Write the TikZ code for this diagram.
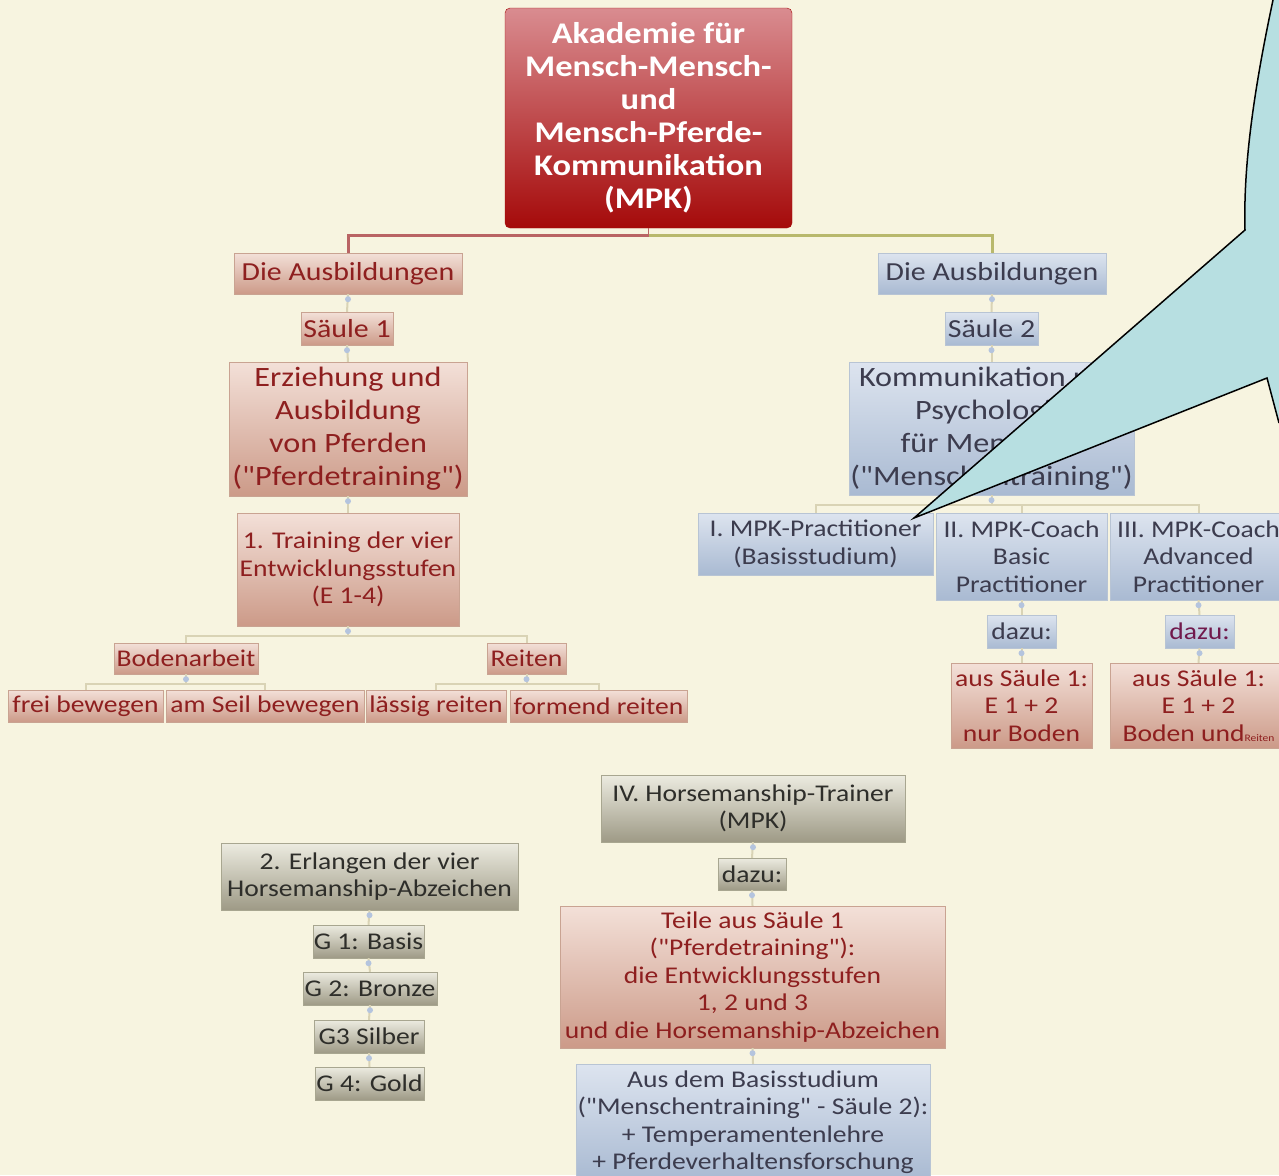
\documentclass[tikz,border=0pt]{standalone}
\usepackage{fontspec}
\newfontfamily\mapfont{Carlito}[FakeStretch=1.15]

\definecolor{bgcream}{HTML}{F7F4E0}
\definecolor{pinktop}{HTML}{F3E0D8}
\definecolor{pinkbot}{HTML}{CC9A88}
\definecolor{pinkedge}{HTML}{C9A392}
\definecolor{pinktext}{HTML}{8E1F1F}
\definecolor{bluetop}{HTML}{DDE4EF}
\definecolor{bluebot}{HTML}{A9BAD2}
\definecolor{blueedge}{HTML}{B8C4D4}
\definecolor{bluetext}{HTML}{3C3C4E}
\definecolor{graytop}{HTML}{ECEBE0}
\definecolor{graybot}{HTML}{9E9A86}
\definecolor{grayedge}{HTML}{A8A690}
\definecolor{graytext}{HTML}{2E2E2A}
\definecolor{roottop}{HTML}{D98C90}
\definecolor{rootbot}{HTML}{A50A0A}
\definecolor{linkcol}{HTML}{D9D3B5}
\definecolor{jointcol}{HTML}{B4C4DE}
\definecolor{rootred}{HTML}{B96464}
\definecolor{rootolive}{HTML}{B8B86C}
\definecolor{calloutfill}{HTML}{B7DFE1}

\begin{document}
\begin{tikzpicture}[x=1pt, y=-1pt,
  every node/.style={align=center, inner sep=0pt},
  dim/.style 2 args={minimum width=#1pt, minimum height=#2pt},
  pinkbox/.style={draw=pinkedge, top color=pinktop, bottom color=pinkbot, text=pinktext, font=\mapfont\fontsize{24}{27.5}\selectfont},
  bluebox/.style={draw=blueedge, top color=bluetop, bottom color=bluebot, text=bluetext, font=\mapfont\fontsize{24}{27.5}\selectfont},
  graybox/.style={draw=grayedge, top color=graytop, bottom color=graybot, text=graytext, font=\mapfont\fontsize{24}{27.5}\selectfont},
  mid/.style={font=\mapfont\fontsize{26}{28}\selectfont},
  big/.style={font=\mapfont\fontsize{28}{33}\selectfont},
  rootbox/.style={draw=rootbot, rounded corners=5pt, top color=roottop, bottom color=rootbot, text=white, font=\mapfont\fontsize{30}{33}\selectfont\bfseries},
  link/.style={draw=linkcol, line width=2pt},
  joint/.style={fill=jointcol}]

  % background and page size
  \fill[bgcream] (0,0) rectangle (1279,1175);
  \useasboundingbox (0,0) rectangle (1279,1175);

  % root
  \node[rootbox, dim={287}{220}] (root) at (648.5,118) {Akademie für\\Mensch-Mensch-\\und\\Mensch-Pferde-\\Kommunikation\\(MPK)};

  % Saeule 1
  \node[pinkbox, mid, dim={228}{41}] (ausL) at (348,273.5) {Die Ausbildungen};
  \node[pinkbox, mid, dim={92}{33}] (saeuleA) at (347,328.5) {Säule 1};
  \node[pinkbox, big, dim={238}{134}] (erz) at (348,429) {Erziehung und\\Ausbildung\\von Pferden\\("Pferdetraining")};
  \node[pinkbox, dim={222}{113}] (train) at (348,569.5) {1. Training der vier\\Entwicklungsstufen\\(E 1-4)};
  \node[pinkbox, dim={144}{31}] (boden) at (186,658.5) {Bodenarbeit};
  \node[pinkbox, dim={79}{31}] (reiten) at (526.5,658.5) {Reiten};
  \node[pinkbox, dim={155}{32}] (frei) at (85.5,706) {frei bewegen};
  \node[pinkbox, dim={198}{32}] (seil) at (265,706) {am Seil bewegen};
  \node[pinkbox, dim={140}{32}] (laessig) at (436,706) {lässig reiten};
  \node[pinkbox, dim={177}{32}] (formend) at (598.5,706) {formend reiten};

  % Saeule 2
  \node[bluebox, mid, dim={228}{41}] (ausR) at (992,273.5) {Die Ausbildungen};
  \node[bluebox, mid, dim={93}{33}] (saeuleB) at (991.5,328.5) {Säule 2};
  \node[bluebox, big, dim={285}{133}] (komm) at (991.5,428.5) {Kommunikation und\\Psychologie\\für Menschen\\("Menschentraining")};
  \node[bluebox, dim={235}{62}] (prac) at (815.5,544) {I. MPK-Practitioner\\(Basisstudium)};
  \node[bluebox, dim={171}{87}] (coachB) at (1021.5,556.5) {II. MPK-Coach\\Basic\\Practitioner};
  \node[bluebox, dim={177}{87}] (coachA) at (1198.5,556.5) {III. MPK-Coach\\Advanced\\Practitioner};
  \node[bluebox, dim={69}{33}] (dazuB) at (1021.5,631.5) {dazu:};
  \node[bluebox, dim={69}{33}, text=pinktext!80!blue] (dazuA) at (1199.5,631.5) {dazu:};
  \node[pinkbox, dim={141}{85}] (ausB) at (1021.5,705.5) {aus Säule 1:\\E 1 + 2\\nur Boden};
  \node[pinkbox, dim={177}{85}] (ausA) at (1198.5,705.5) {aus Säule 1:\\E 1 + 2\\Boden und{\fontsize{10}{10}\selectfont Reiten}};

  % Horsemanship
  \node[graybox, dim={304}{67}] (trainer) at (753,808.5) {IV. Horsemanship-Trainer\\(MPK)};
  \node[graybox, dim={68}{32}] (dazuC) at (752,874) {dazu:};
  \node[pinkbox, dim={385}{142}] (teile) at (752.5,977) {Teile aus Säule 1\\("Pferdetraining"):\\die Entwicklungsstufen\\1, 2 und 3\\und die Horsemanship-Abzeichen};
  \node[bluebox, dim={354}{116}] (basis) at (753,1122) {Aus dem Basisstudium\\("Menschentraining" - Säule 2):\\+ Temperamentenlehre\\+ Pferdeverhaltensforschung};

  \node[graybox, dim={297}{67}] (erl) at (369.5,876.5) {2. Erlangen der vier\\Horsemanship-Abzeichen};
  \node[graybox, dim={111}{33}] (g1) at (368.5,941.5) {G 1: Basis};
  \node[graybox, dim={134}{33}] (g2) at (370,988.5) {G 2: Bronze};
  \node[graybox, dim={110}{33}] (g3) at (369,1036.5) {G3 Silber};
  \node[graybox, dim={109}{33}] (g4) at (369.5,1083.5) {G 4: Gold};

  % root connectors
  \coordinate (rootjoint) at (648.5,235);
  \draw[rootolive, line width=3pt] (rootjoint) -| (ausR.north);
  \draw[rootred, line width=3pt] (rootjoint) -| (ausL.north);
  \draw[rootred, line width=1.5pt] (root.south) -- (rootjoint);

  % straight connectors
  \foreach \a/\b in {ausL/saeuleA, saeuleA/erz, erz/train, ausR/saeuleB, saeuleB/komm,
      coachB/dazuB, dazuB/ausB, coachA/dazuA, dazuA/ausA, trainer/dazuC, dazuC/teile,
      teile/basis, erl/g1, g1/g2, g2/g3, g3/g4} {
    \draw[link] (\a.south) -- (\b.north);
    \fill[joint] (\a.south) ++(0,5) circle (3pt);
  }

  % branching connectors
  \foreach \a/\b in {train/boden, train/reiten, boden/frei, boden/seil,
      reiten/laessig, reiten/formend, komm/prac, komm/coachB, komm/coachA} {
    \draw[link] (\a.south) -- ++(0,10) -| (\b.north);
  }
  \foreach \a in {train, boden, reiten, komm}
    \fill[joint] (\a.south) ++(0,5) circle (3pt);

  % callout
  \fill[calloutfill] (1273,0) .. controls (1256,80) and (1243,160) .. (1245,230) -- (914,518)
    -- (1267,378) -- (1279,423) -- (1279,0) -- cycle;
  \draw[black, line width=1.5pt, line join=miter] (1273,0) .. controls (1256,80) and (1243,160) .. (1245,230)
    -- (914,518) -- (1267,378) -- (1279,423);
\end{tikzpicture}
\end{document}
